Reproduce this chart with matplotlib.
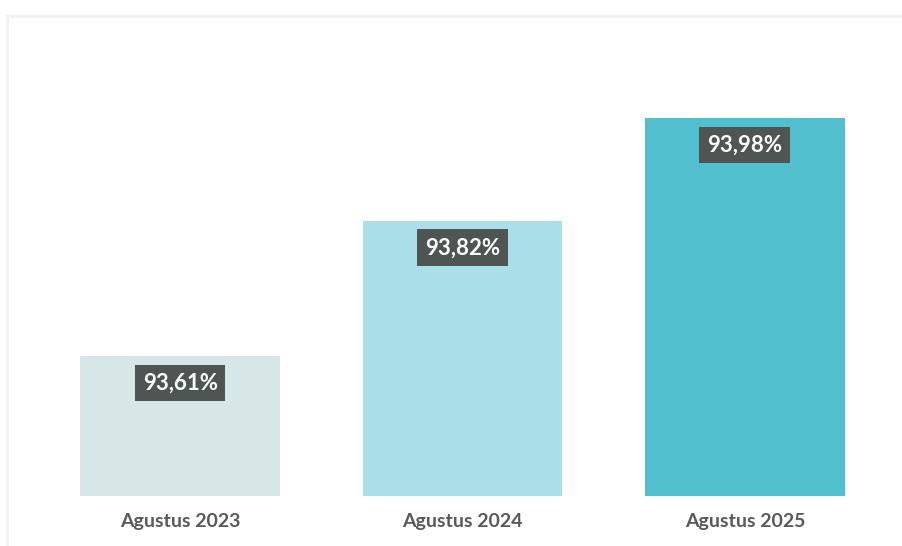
import matplotlib.pyplot as plt
from matplotlib.patches import Rectangle

categories = ['Agustus 2023', 'Agustus 2024', 'Agustus 2025']
values = [93.61, 93.82, 93.98]
value_labels = ['93,61%', '93,82%', '93,98%']
colors = ['#d7e7e7', '#aadfe9', '#52bfcf']

fig = plt.figure(figsize=(9.02, 5.46), dpi=100)
fig.patch.set_facecolor('white')

# faint card border (top and left)
fig.add_artist(Rectangle((7 / 902, -0.1), 1.2, 1 - 16 / 546 + 0.1, transform=fig.transFigure,
                         facecolor='none', edgecolor='#f2f2f2', linewidth=2))

ax = fig.add_axes([39 / 902, 50 / 546, 847 / 902, 478 / 546])
ax.set_facecolor('none')

x = range(len(categories))
ax.bar(x, values, width=0.708, color=colors, bottom=0)
ax.set_xlim(-0.5, 2.5)
ax.set_ylim(93.392, 94.135)

for xi, v, lab in zip(x, values, value_labels):
    ax.annotate(lab, (xi, v), xytext=(0, -19.5), textcoords='offset points',
                ha='center', va='center', fontsize=16, fontweight='bold',
                family='Lato', color='white',
                bbox=dict(boxstyle='square,pad=0.35', facecolor='#4f5553', edgecolor='none'))

ax.set_xticks(list(x))
ax.set_xticklabels(categories, fontsize=14, color='#595959', family='Lato', fontweight='bold')
ax.tick_params(axis='x', length=0, pad=12)
ax.set_yticks([])
for s in ax.spines.values():
    s.set_visible(False)

plt.savefig('out.png', dpi=100)
